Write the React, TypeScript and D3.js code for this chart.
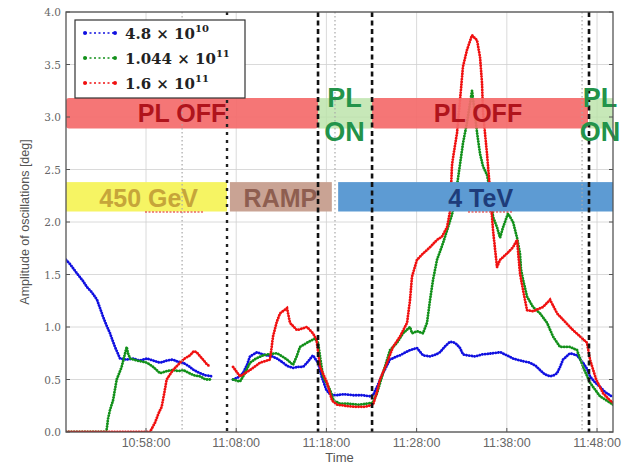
import React from 'react';
import * as d3 from 'd3';

// time in minutes after 10:00, amplitude in deg (null = no data)
type Pt = [number, number | null];

const series48e10: Pt[] = [
  [49.13, 1.64], [49.57, 1.6], [50.35, 1.51], [51.0, 1.44], [51.46, 1.38], [52.0, 1.33], [52.57, 1.26],
  [53.23, 1.1], [53.6, 1.02], [54.01, 0.94], [54.56, 0.81], [55.12, 0.7], [55.89, 0.69], [56.6, 0.7],
  [57.3, 0.68], [58.11, 0.7], [58.8, 0.68], [59.55, 0.66], [60.3, 0.68], [60.99, 0.69], [61.5, 0.67],
  [62.1, 0.66], [62.7, 0.63], [63.3, 0.59], [64.0, 0.56], [64.6, 0.54], [65.32, 0.53], [66.5, null],
  [67.65, 0.5], [68.2, 0.52], [68.75, 0.56], [69.2, 0.64], [69.53, 0.72], [70.31, 0.76], [70.9, 0.74],
  [71.41, 0.73], [72.0, 0.72], [72.52, 0.7], [73.2, 0.66], [73.63, 0.63], [74.3, 0.61], [74.8, 0.62],
  [75.41, 0.62], [75.85, 0.66], [76.51, 0.73], [76.74, 0.7], [77.07, 0.66], [77.5, 0.52], [78.0, 0.4],
  [78.4, 0.36], [79.0, 0.35], [80.0, 0.36], [81.0, 0.35], [82.0, 0.35], [82.83, 0.34], [83.17, 0.35],
  [83.61, 0.43], [84.27, 0.56], [85.05, 0.69], [85.8, 0.72], [86.16, 0.73], [86.8, 0.76], [87.27, 0.78],
  [88.04, 0.8], [88.71, 0.73], [89.49, 0.72], [90.2, 0.74], [90.59, 0.76], [91.2, 0.82], [91.7, 0.86],
  [92.26, 0.85], [92.6, 0.82], [92.81, 0.8], [93.14, 0.74], [93.6, 0.73], [94.5, 0.72], [95.3, 0.74],
  [96.47, 0.75], [97.3, 0.76], [98.0, 0.73], [98.69, 0.7], [99.5, 0.68], [100.57, 0.66], [101.2, 0.63],
  [101.68, 0.59], [102.2, 0.55], [102.79, 0.53], [103.2, 0.54], [103.57, 0.56], [103.9, 0.62],
  [104.23, 0.69], [105.01, 0.75], [105.78, 0.73], [106.45, 0.66], [106.9, 0.6], [107.22, 0.53],
  [107.7, 0.48], [108.33, 0.43], [108.9, 0.38], [109.44, 0.35], [109.77, 0.33],
];

const series1044e11: Pt[] = [
  [49.13, 0], [50.5, 0], [52.0, 0], [53.0, 0], [53.6, 0], [53.8, 0.13], [54.01, 0.21], [54.34, 0.3],
  [54.75, 0.5], [55.3, 0.62], [55.86, 0.81], [56.0, 0.75], [56.23, 0.7], [57.0, 0.68], [57.6, 0.67],
  [58.11, 0.66], [58.8, 0.62], [59.55, 0.56], [60.3, 0.58], [60.99, 0.59], [61.6, 0.58], [62.1, 0.59],
  [62.6, 0.57], [63.3, 0.54], [64.0, 0.53], [64.6, 0.5], [65.32, 0.5], [66.5, null],
  [67.65, 0.5], [68.42, 0.48], [68.9, 0.55], [69.53, 0.66], [70.2, 0.7], [70.97, 0.73], [71.6, 0.74],
  [72.52, 0.75], [73.1, 0.72], [73.63, 0.69], [74.3, 0.64], [74.7, 0.72], [75.07, 0.81], [75.85, 0.85],
  [76.74, 0.89], [77.07, 0.85], [77.62, 0.53], [78.4, 0.4], [78.8, 0.3], [79.5, 0.27], [80.5, 0.27],
  [81.5, 0.26], [82.5, 0.27], [83.17, 0.28], [83.61, 0.37], [84.27, 0.56], [85.05, 0.78], [85.83, 0.85],
  [86.49, 0.94], [87.27, 1.0], [87.49, 0.94], [88.04, 0.96], [88.71, 0.94], [89.15, 1.04], [89.49, 1.26],
  [89.82, 1.45], [90.26, 1.64], [90.93, 1.8], [91.37, 1.92], [91.92, 2.07], [92.26, 2.2], [92.48, 2.35],
  [92.81, 2.55], [93.14, 2.75], [93.59, 2.95], [94.14, 3.25], [94.36, 3.1], [94.7, 2.85], [95.03, 2.65],
  [95.36, 2.53], [95.8, 2.45], [96.14, 2.3], [96.47, 2.05], [96.91, 1.95], [97.25, 1.85], [97.58, 1.95],
  [98.13, 2.08], [98.69, 2.0], [99.13, 1.85], [99.46, 1.7], [99.57, 1.55], [99.8, 1.45], [100.24, 1.29],
  [100.9, 1.19], [101.68, 1.13], [102.46, 1.04], [103.12, 0.91], [103.9, 0.81], [105.01, 0.81],
  [105.78, 0.78], [106.45, 0.62], [107.22, 0.47], [108.33, 0.34], [109.44, 0.28], [109.77, 0.26],
];

const series16e11: Pt[] = [
  [49.13, 0], [50.5, 0], [52.0, 0], [54.0, 0], [56.0, 0], [57.5, 0], [58.44, 0], [59.0, 0.09],
  [59.4, 0.18], [59.74, 0.24], [60.0, 0.36], [60.29, 0.5], [60.99, 0.59], [61.77, 0.66], [62.3, 0.7],
  [62.88, 0.73], [63.3, 0.77], [63.62, 0.76], [64.0, 0.72], [64.32, 0.69], [64.7, 0.65], [65.1, 0.62],
  [66.5, null],
  [67.65, 0.62], [68.42, 0.53], [69.53, 0.59], [70.64, 0.66], [71.75, 0.69], [72.08, 0.91], [72.5, 1.05],
  [72.86, 1.13], [73.63, 1.18], [73.96, 1.04], [74.74, 0.97], [75.85, 1.0], [76.51, 0.94], [76.9, 0.88],
  [77.29, 0.62], [78.07, 0.47], [78.62, 0.3], [79.18, 0.26], [80.06, 0.25], [81.17, 0.24], [82.28, 0.24],
  [83.17, 0.26], [83.6, 0.38], [83.94, 0.5], [84.72, 0.66], [85.38, 0.81], [86.16, 0.91], [86.94, 1.04],
  [87.27, 1.26], [87.49, 1.48], [88.04, 1.64], [88.71, 1.7], [89.49, 1.76], [90.26, 1.83], [90.8, 1.86],
  [91.37, 1.95], [91.7, 2.1], [91.92, 2.54], [92.05, 2.62], [92.48, 2.85], [92.81, 3.16], [93.14, 3.48],
  [93.59, 3.64], [94.14, 3.78], [94.7, 3.73], [95.03, 3.57], [95.25, 3.32], [95.36, 3.04], [95.8, 2.65],
  [96.14, 2.3], [96.47, 1.92], [96.91, 1.57], [97.25, 1.64], [98.02, 1.7], [98.69, 1.76], [99.13, 1.83],
  [99.46, 1.51], [99.8, 1.35], [100.24, 1.16], [100.9, 1.15], [102.01, 1.19], [102.79, 1.26],
  [103.57, 1.13], [104.23, 1.07], [105.34, 0.97], [106.12, 0.91], [106.89, 0.85], [107.22, 0.69],
  [107.9, 0.5], [108.67, 0.37], [109.44, 0.3], [109.77, 0.28],
];

const seriesNames = ['4.8', '1.044', '1.6'];
const seriesExps = ['10', '11', '11'];

const xDomain = [49.13, 109.77];
const xTicks = [58, 68, 78, 88, 98, 108];
const xTickLabels = ['10:58:00', '11:08:00', '11:18:00', '11:28:00', '11:38:00', '11:48:00'];
const yTicks = [0, 0.5, 1, 1.5, 2, 2.5, 3, 3.5, 4];

// annotation bands (time spans) and their value ranges
const plBands: { kind: string; t: [number, number] }[] = [
  { kind: 'off', t: [49.13, 77.07] },
  { kind: 'on', t: [77.07, 83.06] },
  { kind: 'off', t: [83.06, 107.0] },
  { kind: 'on', t: [107.11, 109.77] },
];
const plRange = [2.89, 3.18];
const energyBands = [
  { label: '450 GeV', t: [49.13, 66.98], at: 58.3 },
  { label: 'RAMP', t: [67.3, 78.6], at: 72.9 },
  { label: '4 TeV', t: [79.3, 109.77], at: 95.1 },
];
const energyRange = [2.1, 2.38];
const plOffLabels = [62.0, 94.8];
const plOnLabels = [80.0, 108.33];

const dashedLines = [77.07, 83.06, 107.11];
const boldDotLines = [66.98];
const greyDotLines = [62.0, 78.95, 106.34];

const colors = ['#1010e0', '#12901a', '#f01010'];
const energyFill: Record<string, string> = { '450 GeV': '#f6f463', RAMP: '#c9a394', '4 TeV': '#5d9bd3' };
const energyText: Record<string, string> = { '450 GeV': '#c6a53a', RAMP: '#8e5e50', '4 TeV': '#1e3c7a' };

export default function App() {
  const W = 625, H = 467;
  const L = 66, R = 613, T = 12, B = 432;
  const x = d3.scaleLinear().domain(xDomain).range([L, R]);
  const y = d3.scaleLinear().domain([0, 4]).range([B, T]);
  const line = d3
    .line<Pt>()
    .defined((d) => d[1] !== null)
    .x((d) => x(d[0]))
    .y((d) => y(d[1] as number));
  const all = [series48e10, series1044e11, series16e11];
  const sans = 'Liberation Sans, Arial, sans-serif';

  return (
    <svg width={W} height={H} style={{ position: 'absolute', left: 0, top: 0, background: '#fff' }}>
      <defs>
        <clipPath id="plot">
          <rect x={L} y={T} width={R - L} height={B - T} />
        </clipPath>
      </defs>
      {/* grid */}
      {yTicks.map((v) => (
        <line key={'gy' + v} x1={L} x2={R} y1={y(v)} y2={y(v)} stroke="#d0d0d0" strokeWidth={0.8} />
      ))}
      {xTicks.map((t) => (
        <line key={'gx' + t} x1={x(t)} x2={x(t)} y1={T} y2={B} stroke="#d0d0d0" strokeWidth={0.8} />
      ))}

      {/* data: dotted line with dense dot markers */}
      <g clipPath="url(#plot)">
        {all.map((s, i) => (
          <g key={'s' + i}>
            <path d={line(s) || ''} fill="none" stroke={colors[i]} strokeWidth={0.7} strokeOpacity={0.4} />
            <path
              d={line(s) || ''}
              fill="none"
              stroke={colors[i]}
              strokeWidth={2.8}
              strokeDasharray="0.1,2.6"
              strokeLinecap="round"
            />
          </g>
        ))}
      </g>

      {/* PL bands */}
      {plBands.map((b, i) => (
        <rect
          key={'pl' + i}
          x={x(b.t[0])}
          width={x(b.t[1]) - x(b.t[0])}
          y={y(plRange[1])}
          height={y(plRange[0]) - y(plRange[1])}
          fill={b.kind === 'off' ? '#f46a6a' : '#b9e2a6'}
          fillOpacity={b.kind === 'off' ? 0.92 : 0.8}
          rx={b.kind === 'off' ? 3 : 0}
        />
      ))}
      {energyBands.map((b) => (
        <rect
          key={b.label}
          x={x(b.t[0])}
          width={x(b.t[1]) - x(b.t[0])}
          y={y(energyRange[1])}
          height={y(energyRange[0]) - y(energyRange[1])}
          fill={energyFill[b.label]}
        />
      ))}

      {/* vertical markers */}
      {greyDotLines.map((t) => (
        <line key={'gd' + t} x1={x(t)} x2={x(t)} y1={T} y2={B} stroke="#a8a8a8" strokeWidth={1.2} strokeDasharray="1.5,2.5" />
      ))}
      {boldDotLines.map((t) => (
        <line key={'bd' + t} x1={x(t)} x2={x(t)} y1={T} y2={B} stroke="#222" strokeWidth={2.4} strokeDasharray="3,5" />
      ))}
      {dashedLines.map((t) => (
        <line key={'dl' + t} x1={x(t)} x2={x(t)} y1={T} y2={B} stroke="#111" strokeWidth={2.6} strokeDasharray="5,3.5" />
      ))}

      {/* band labels */}
      {plOffLabels.map((t) => (
        <text
          key={'off' + t}
          x={x(t)}
          y={y(plRange[0]) - 7}
          textAnchor="middle"
          fontFamily={sans}
          fontWeight="bold"
          fontSize={25}
          fill="#b0141c"
        >
          PL OFF
        </text>
      ))}
      {plOnLabels.map((t) => (
        <g key={'on' + t} fontFamily={sans} fontWeight="bold" fontSize={27} fill="#23934a" textAnchor="middle">
          <text x={x(t)} y={107}>PL</text>
          <text x={x(t)} y={141}>ON</text>
        </g>
      ))}
      {energyBands.map((b) => (
        <text
          key={'t' + b.label}
          x={x(b.at)}
          y={y(energyRange[0]) - 5}
          textAnchor="middle"
          fontFamily={sans}
          fontWeight="bold"
          fontSize={25}
          fill={energyText[b.label]}
        >
          {b.label}
        </text>
      ))}
      {/* spell-check squiggles of the original slide */}
      <line x1={145} x2={203} y1={212} y2={212} stroke="#e02020" strokeWidth={1.2} strokeDasharray="2,1.5" />
      <line x1={468} x2={513} y1={212} y2={212} stroke="#e02020" strokeWidth={1.2} strokeDasharray="2,1.5" />

      {/* frame */}
      <rect x={L} y={T} width={R - L} height={B - T} fill="none" stroke="#555" strokeWidth={1.3} />

      {/* y axis */}
      {yTicks.map((v) => (
        <g key={'yt' + v}>
          <line x1={L} x2={L + 4} y1={y(v)} y2={y(v)} stroke="#555" />
          <line x1={R - 4} x2={R} y1={y(v)} y2={y(v)} stroke="#555" />
          <text x={L - 5} y={y(v) + 4} textAnchor="end" fontFamily="DejaVu Serif, serif" fontSize={10.5} fill="#666">
            {v.toFixed(1)}
          </text>
        </g>
      ))}
      <text
        transform={`translate(29,${(T + B) / 2}) rotate(-90)`}
        textAnchor="middle"
        fontFamily={sans}
        fontSize={12.5}
        fill="#555"
      >
        Amplitude of oscillations [deg]
      </text>

      {/* x axis */}
      {xTicks.map((t, i) => (
        <g key={'xt' + t}>
          <line x1={x(t)} x2={x(t)} y1={B} y2={B - 4} stroke="#555" />
          <text x={x(t)} y={B + 15} textAnchor="middle" fontFamily={sans} fontSize={12.5} fill="#666">
            {xTickLabels[i]}
          </text>
        </g>
      ))}
      <text x={(L + R) / 2} y={B + 30} textAnchor="middle" fontFamily={sans} fontSize={13} fill="#555">
        Time
      </text>

      {/* legend */}
      <rect x={75} y={20} width={170} height={78} fill="#fff" stroke="#333" strokeWidth={1.2} />
      {seriesNames.map((n, i) => {
        const ly = 33 + i * 25;
        return (
          <g key={'lg' + i}>
            <line x1={85} x2={115} y1={ly} y2={ly} stroke={colors[i]} strokeWidth={1.3} strokeDasharray="2,2.5" />
            <circle cx={85} cy={ly} r={2} fill={colors[i]} />
            <circle cx={115} cy={ly} r={2} fill={colors[i]} />
            <text x={125} y={ly + 6} fontFamily="DejaVu Serif, serif" fontWeight="bold" fontSize={15} fill="#222">
              {n} × 10
              <tspan dy={-7} fontSize={10}>
                {seriesExps[i]}
              </tspan>
            </text>
          </g>
        );
      })}
    </svg>
  );
}
